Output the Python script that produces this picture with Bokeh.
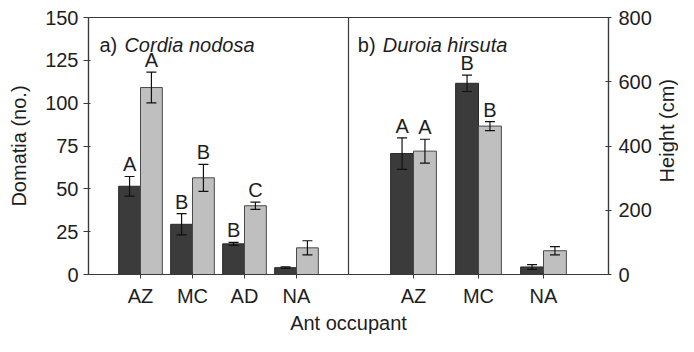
import math
from bokeh.plotting import figure
from bokeh.layouts import row
from bokeh.models import (Range1d, LinearAxis, FixedTicker, Span, Label,
                          ColumnDataSource, Whisker, TeeHead)
from bokeh.core.properties import value
from bokeh.embed import file_html
from bokeh.resources import INLINE

# ---- data ----
cats_a = ["AZ", "MC", "AD", "NA"]
dom_a = [51.5, 29.3, 17.9, 4.0]
dom_a_err = [5.7, 6.2, 0.9, 0.5]
hgt_a = [582, 301, 214, 83]
hgt_a_err = [48, 42, 11, 22]
let_dom_a = ["A", "B", "B", ""]
let_hgt_a = ["A", "B", "C", ""]

cats_b = ["AZ", "MC", "NA"]
dom_b = [70.6, 111.6, 4.4]
dom_b_err = [9.2, 4.8, 1.4]
hgt_b = [384, 462, 74]
hgt_b_err = [37, 14, 13]
let_dom_b = ["A", "B", ""]
let_hgt_b = ["A", "B", ""]

dom_ticks = [0, 25, 50, 75, 100, 125, 150]
hgt_ticks = [0, 200, 400, 600, 800]

FONT = "Liberation Sans"
FONT_VAL = value(FONT)
FS = "20px"
TXT = "#1e1e1e"
AX = "#3a3a3a"
DARK = "#3b3b3b"
LIGHT = "#bfbfbf"

H = 336
TOP = 17

# category positions: panel a occupies 0..5, panel b 5..10
xa = [i + 1 for i in range(len(cats_a))]
xb = [5 + 1.25 * (i + 1) for i in range(len(cats_b))]

p = figure(width=654, height=H, x_range=Range1d(0, 10), y_range=Range1d(0, 150),
           output_backend="svg", toolbar_location=None,
           min_border_left=88, min_border_right=42, min_border_top=TOP,
           min_border_bottom=10, y_axis_location=None)
p.xgrid.visible = False
p.ygrid.visible = False
p.outline_line_color = AX
p.outline_line_width = 1.2
p.background_fill_color = "white"
p.border_fill_color = "white"
p.extra_y_ranges = {"h": Range1d(0, 800)}

def style_axis(ax):
    ax.axis_line_color = AX
    ax.axis_line_width = 1.2
    ax.major_tick_line_color = AX
    ax.minor_tick_line_color = None
    ax.major_label_text_font = FONT
    ax.major_label_text_font_size = FS
    ax.major_label_text_color = TXT
    ax.axis_label_text_font = FONT
    ax.axis_label_text_font_size = FS
    ax.axis_label_text_font_style = "normal"
    ax.axis_label_text_color = TXT

left = LinearAxis(ticker=FixedTicker(ticks=dom_ticks), axis_label="Domatia (no.)")
style_axis(left)
left.major_tick_out = 5
left.major_tick_in = 2
left.major_label_standoff = 5
left.axis_label_standoff = 12
p.add_layout(left, "left")

right = LinearAxis(y_range_name="h", ticker=FixedTicker(ticks=hgt_ticks))
style_axis(right)
right.major_tick_out = 3
right.major_tick_in = 3
right.major_label_standoff = 7
p.add_layout(right, "right")

xax = p.xaxis[0]
style_axis(xax)
xax.axis_label = "Ant occupant"
xax.ticker = FixedTicker(ticks=xa + xb)
overrides = {}
for x, c in zip(xa, cats_a):
    overrides[float(x)] = c
for x, c in zip(xb, cats_b):
    overrides[float(x)] = c
xax.major_label_overrides = overrides
xax.major_tick_out = 4
xax.major_tick_in = 2
xax.major_label_standoff = 6
xax.axis_label_standoff = 2

p.add_layout(Span(location=5, dimension="height", line_color=AX, line_width=1.2))

def panel(xs, dom, dom_err, hgt, hgt_err, ld, lh, w):
    xd = [x - w / 2 for x in xs]
    xl = [x + w / 2 for x in xs]
    sd = ColumnDataSource(dict(x=xd, top=dom, up=[d + e for d, e in zip(dom, dom_err)],
                               lo=[d - e for d, e in zip(dom, dom_err)], t=ld))
    sl = ColumnDataSource(dict(x=xl, top=hgt, up=[d + e for d, e in zip(hgt, hgt_err)],
                               lo=[d - e for d, e in zip(hgt, hgt_err)], t=lh))
    p.vbar(x="x", top="top", bottom=0, width=w, source=sd, fill_color=DARK,
           line_color="#2a2a2a", line_width=1)
    p.vbar(x="x", top="top", bottom=0, width=w, source=sl, fill_color=LIGHT,
           line_color="#4a4a4a", line_width=1, y_range_name="h")
    for src, rn in ((sd, "default"), (sl, "h")):
        p.add_layout(Whisker(base="x", upper="up", lower="lo", source=src,
                             line_color="#111111", line_width=1.2, y_range_name=rn,
                             level="overlay",
                             upper_head=TeeHead(size=10, line_color="#111111", line_width=1.2),
                             lower_head=TeeHead(size=10, line_color="#111111", line_width=1.2)))
        p.text(x="x", y="up", text="t", source=src, text_align="center",
               text_baseline="bottom", y_offset=-1, text_font=FONT_VAL,
               text_font_size=FS, text_color=TXT, y_range_name=rn)

panel(xa, dom_a, dom_a_err, hgt_a, hgt_a_err, let_dom_a, let_hgt_a, 0.42)
panel(xb, dom_b, dom_b_err, hgt_b, hgt_b_err, let_dom_b, let_hgt_b, 0.44)

def title(x, pre, name):
    p.add_layout(Label(x=x, y=134, text=pre, text_font=FONT, text_font_size=FS,
                       text_color=TXT, text_baseline="alphabetic"))
    p.add_layout(Label(x=x, y=134, x_offset=25, text=name, text_font=FONT,
                       text_font_size=FS, text_font_style="italic",
                       text_color=TXT, text_baseline="alphabetic"))

title(0.21, "a)", "Cordia nodosa")
title(5.18, "b)", "Duroia hirsuta")

# narrow side strip holding the right-axis title, reading bottom-to-top
q = figure(width=24, height=H, x_range=Range1d(0, 1), y_range=Range1d(0, H),
           output_backend="svg", toolbar_location=None, min_border=0,
           outline_line_color=None)
q.axis.visible = False
q.xgrid.visible = False
q.ygrid.visible = False
q.background_fill_color = "white"
q.border_fill_color = "white"
q.add_layout(Label(x=0.5, y=H - 148, text="Height (cm)", angle=math.pi / 2,
                   text_align="center", text_baseline="middle", text_font=FONT,
                   text_font_size=FS, text_color=TXT))

layout = row(p, q, spacing=0)
open("out.html", "w").write(file_html(layout, INLINE))
